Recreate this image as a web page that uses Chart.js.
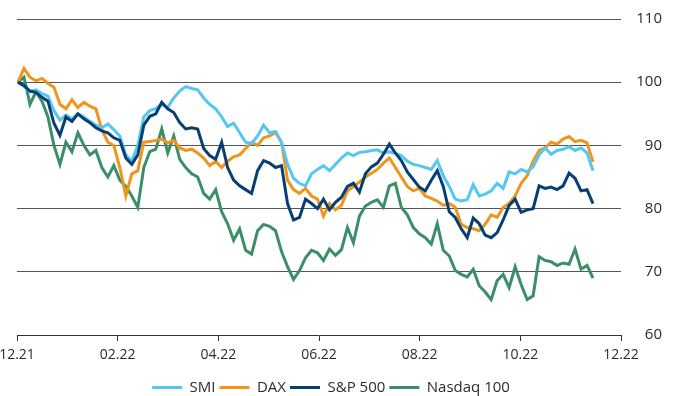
<!DOCTYPE html>
<html>
<head>
<meta charset="utf-8">
<script src="https://cdn.jsdelivr.net/npm/chart.js@4.4.1/dist/chart.umd.min.js"></script>
<style>
  html, body { margin: 0; padding: 0; background: #fff; }
  #wrap { width: 674px; height: 396px; position: relative; }
</style>
</head>
<body>
<div id="wrap"><canvas id="chart"></canvas></div>
<script>
// x tick labels, one every two months
const tickLabels = ['12.21', '02.22', '04.22', '06.22', '08.22', '10.22', '12.22'];
const seriesNames = ['SMI', 'DAX', 'S&P 500', 'Nasdaq 100'];

// indexed to 100, sampled roughly every 3.5 days from early Dec 2021
const smi = [100, 99.3, 98.5, 98.8, 98.2, 97.8, 95.5, 94.0, 94.8, 94.2, 95.0, 94.5, 93.8, 93.2, 92.8, 93.4, 92.5, 91.5, 88.5, 87.5,
  90.0, 94.5, 95.5, 95.8, 96.5, 96.0, 97.5, 98.6, 99.3, 99.0, 98.8, 97.5, 96.5, 95.8, 94.5, 93.0, 93.5, 92.0, 90.5, 90.3,
  91.5, 93.2, 92.0, 92.2, 90.5, 87.0, 84.8, 84.0, 83.6, 85.5, 86.2, 86.8, 86.0, 87.0, 88.0, 88.8, 88.4, 88.9, 89.0, 89.2,
  89.3, 88.8, 89.0, 88.7, 88.4, 87.5, 87.0, 86.8, 86.5, 86.2, 87.6, 85.2, 83.5, 81.5, 81.2, 81.4, 83.8, 82.0, 82.3, 82.8,
  84.0, 83.2, 85.8, 85.5, 86.2, 85.8, 86.6, 88.5, 89.6, 88.6, 89.2, 89.4, 89.8, 89.2, 89.6, 88.8, 86.0];
const dax = [100, 102.2, 100.8, 100.2, 100.6, 99.8, 99.2, 96.5, 95.8, 97.2, 96.0, 96.8, 96.2, 95.8, 92.5, 90.5, 90.0, 86.5, 82.0, 85.5,
  86.0, 90.5, 90.6, 90.8, 91.0, 90.4, 90.8, 89.6, 89.2, 89.4, 88.8, 88.0, 86.8, 87.5, 86.5, 87.5, 88.2, 88.5, 89.5, 90.5,
  90.0, 91.2, 91.5, 92.0, 90.5, 84.5, 83.0, 82.4, 83.2, 82.0, 81.5, 78.8, 80.8, 79.8, 80.5, 82.8, 83.5, 84.2, 85.0, 85.6,
  86.2, 87.2, 88.0, 86.5, 85.0, 83.5, 82.8, 83.2, 82.0, 81.6, 81.2, 80.5, 80.8, 80.2, 77.5, 77.0, 76.8, 76.5, 77.5, 79.0,
  78.6, 80.2, 80.8, 82.0, 84.0, 85.2, 87.5, 89.2, 89.6, 90.5, 90.2, 91.0, 91.4, 90.6, 90.8, 90.4, 87.4];
const sp500 = [100, 99.5, 98.6, 98.4, 97.6, 97.0, 93.5, 91.6, 94.5, 93.8, 95.0, 94.2, 93.6, 92.8, 92.3, 92.0, 91.2, 90.8, 88.0, 87.0,
  88.5, 93.2, 94.6, 95.0, 96.8, 95.8, 95.2, 93.6, 92.6, 92.8, 92.6, 89.5, 88.4, 87.8, 90.5, 86.5, 84.5, 83.6, 83.0, 82.4,
  86.0, 87.6, 87.2, 86.5, 86.8, 80.8, 78.2, 78.6, 81.5, 80.8, 80.0, 81.5, 79.8, 81.0, 81.8, 83.5, 84.0, 82.6, 85.5, 86.6,
  87.2, 88.6, 90.2, 88.8, 87.6, 85.8, 84.6, 83.4, 82.8, 84.5, 86.0, 83.5, 79.5, 78.6, 76.8, 75.4, 78.5, 77.6, 75.8, 75.4,
  76.2, 78.2, 80.5, 81.5, 79.4, 79.8, 80.0, 83.6, 83.2, 83.4, 83.0, 83.6, 85.6, 84.8, 82.8, 83.0, 80.8];
const nasdaq = [100, 100.8, 96.5, 98.5, 97.0, 94.5, 90.0, 87.0, 90.5, 89.0, 92.0, 90.0, 88.5, 89.2, 86.5, 85.0, 86.8, 84.5, 83.5, 82.0,
  80.2, 86.5, 89.0, 89.4, 92.6, 88.8, 91.5, 87.8, 86.5, 85.5, 85.0, 82.4, 81.5, 83.0, 79.5, 77.6, 75.0, 76.8, 73.4, 72.8,
  76.5, 77.5, 77.2, 76.5, 73.2, 70.8, 68.8, 70.2, 72.2, 73.4, 73.0, 71.8, 73.6, 72.6, 73.5, 77.0, 74.6, 78.8, 80.4, 81.0,
  81.4, 80.2, 83.6, 84.0, 80.2, 79.0, 77.0, 76.0, 75.4, 74.4, 77.6, 73.4, 72.5, 70.2, 69.6, 69.2, 70.4, 67.8, 66.8, 65.6,
  68.6, 69.6, 67.5, 70.8, 68.0, 65.6, 66.2, 72.4, 71.8, 71.6, 71.0, 71.4, 71.2, 73.6, 70.4, 71.0, 69.0];

const colors = ['#56c6f2', '#f0951c', '#073f73', '#3b8e69'];
const allSeries = [smi, dax, sp500, nasdaq];

// months since 12.21; one sample every 0.119 month
const toPoints = arr => arr.map((v, i) => ({ x: 0.02 + i * 0.119, y: v }));

const ctx = document.getElementById('chart').getContext('2d');
new Chart(ctx, {
  type: 'line',
  data: {
    datasets: allSeries.map((s, idx) => ({
      label: seriesNames[idx],
      data: toPoints(s),
      borderColor: colors[idx],
      backgroundColor: colors[idx],
      borderWidth: 3,
      pointRadius: 0,
      tension: 0,
      fill: false,
      order: idx === 2 ? 0 : idx + 1,
    }))
  },
  options: {
    responsive: true,
    maintainAspectRatio: false,
    animation: false,
    layout: { padding: { top: 19, right: 12, left: 0, bottom: -9 } },
    plugins: {
      legend: {
        position: 'bottom',
        labels: {
          usePointStyle: true,
          pointStyle: 'line',
          pointStyleWidth: 30,
          padding: 4,
          color: '#2b2b2b',
          font: { family: 'Open Sans', size: 15 },
          sort: (a, b) => a.datasetIndex - b.datasetIndex,
        }
      },
      tooltip: { enabled: false }
    },
    scales: {
      x: {
        type: 'linear',
        min: 0,
        max: 12,
        afterBuildTicks: axis => {
          axis.ticks = tickLabels.map((_, i) => ({ value: i * 2 }));
        },
        afterFit: scale => {
          scale.height = 41;
          scale.paddingLeft = 17;
          scale.paddingRight = 0;
        },
        ticks: {
          autoSkip: false,
          maxRotation: 0,
          padding: 6,
          color: '#2b2b2b',
          font: { family: 'Open Sans', size: 14 },
          callback: (v) => tickLabels[v / 2],
        },
        grid: { drawOnChartArea: false, drawTicks: true, tickLength: 6, color: '#333' },
        border: { display: true, color: '#333', width: 1 },
      },
      y: {
        position: 'right',
        min: 60,
        max: 110,
        afterFit: scale => { scale.width = 41; },
        ticks: {
          stepSize: 10,
          crossAlign: 'far',
          padding: 0,
          color: '#2b2b2b',
          font: { family: 'Open Sans', size: 15 },
        },
        grid: {
          drawTicks: false,
          color: c => c.tick.value === 60 ? 'rgba(0,0,0,0)' : '#555',
          lineWidth: 1,
        },
        border: { display: false },
      }
    }
  }
});
</script>
</body>
</html>
